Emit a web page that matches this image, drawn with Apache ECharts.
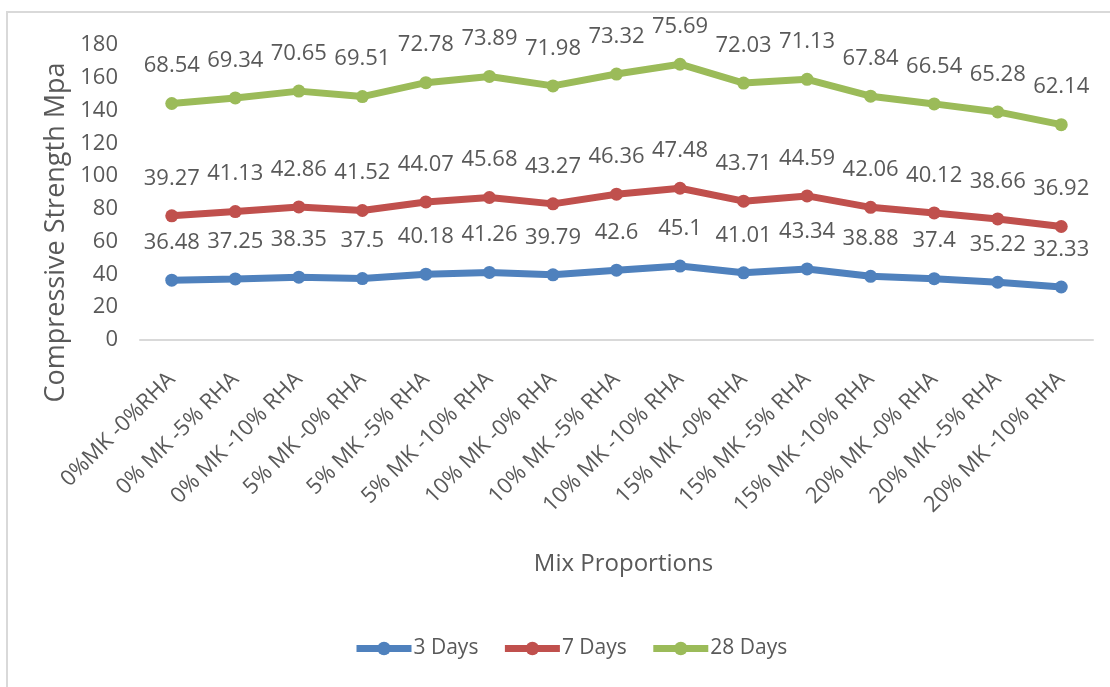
<!DOCTYPE html>
<html>
<head>
<meta charset="utf-8">
<style>
  html, body { margin: 0; padding: 0; background: #fff; }
  #chart { width: 1110px; height: 687px; }
</style>
<script src="https://cdn.jsdelivr.net/npm/echarts@6/dist/echarts.min.js"></script>
</head>
<body>
<div id="chart"></div>
<script>
// Mix proportions (metakaolin / rice husk ash replacement)
const categories = [
  "0%MK -0%RHA", "0% MK -5% RHA", "0% MK -10% RHA",
  "5% MK -0% RHA", "5% MK -5% RHA", "5% MK -10% RHA",
  "10% MK -0% RHA", "10% MK -5% RHA", "10% MK -10% RHA",
  "15% MK -0% RHA", "15% MK -5% RHA", "15% MK -10% RHA",
  "20% MK -0% RHA", "20% MK -5% RHA", "20% MK -10% RHA"
];

// Compressive strength (MPa) at each curing age
const days3 = [36.48, 37.25, 38.35, 37.5, 40.18, 41.26, 39.79, 42.6, 45.1, 41.01, 43.34, 38.88, 37.4, 35.22, 32.33];
const days7 = [39.27, 41.13, 42.86, 41.52, 44.07, 45.68, 43.27, 46.36, 47.48, 43.71, 44.59, 42.06, 40.12, 38.66, 36.92];
const days28 = [68.54, 69.34, 70.65, 69.51, 72.78, 73.89, 71.98, 73.32, 75.69, 72.03, 71.13, 67.84, 66.54, 65.28, 62.14];

const seriesNames = ["3 Days", "7 Days", "28 Days"];
const seriesColors = ["#4F81BD", "#C0504D", "#9BBB59"];

const FONT = "Open Sans";
const TEXT = "#595959";

function makeSeries(name, data, color) {
  return {
    name: name,
    type: "line",
    stack: "strength",
    data: data,
    symbol: "circle",
    symbolSize: 13,
    color: color,
    lineStyle: { width: 7, color: color },
    itemStyle: { color: color },
    label: {
      show: true,
      position: "top",
      distance: 20,
      color: TEXT,
      fontFamily: FONT,
      fontSize: 22,
      lineHeight: 22
    },
    emphasis: { disabled: true }
  };
}

const chart = echarts.init(document.getElementById("chart"), null, { renderer: "canvas" });

chart.setOption({
  animation: false,
  backgroundColor: "#ffffff",
  graphic: [{
    type: "rect",
    shape: { x: 7, y: 12, width: 1130, height: 700 },
    style: { fill: "none", stroke: "#D9D9D9", lineWidth: 2 },
    silent: true
  }],
  grid: { left: 140, right: 17, top: 45, bottom: 347, containLabel: false },
  legend: {
    data: seriesNames,
    left: 353,
    top: 638,
    padding: 0,
    itemGap: 23,
    itemWidth: 55,
    itemHeight: 17,
    lineStyle: { width: 7 },
    textStyle: { color: TEXT, fontFamily: FONT, fontSize: 21, padding: [0, 0, 0, -3] }
  },
  xAxis: {
    type: "category",
    data: categories,
    boundaryGap: true,
    name: "Mix Proportions",
    nameLocation: "middle",
    nameGap: 212,
    nameTextStyle: { color: TEXT, fontFamily: FONT, fontSize: 24, padding: [0, 0, 0, 14] },
    axisLine: { show: true, lineStyle: { color: "#D9D9D9", width: 2 } },
    axisTick: { show: false },
    axisLabel: {
      interval: 0,
      rotate: 45,
      margin: 36,
      align: "right",
      verticalAlign: "middle",
      color: TEXT,
      fontFamily: FONT,
      fontSize: 22
    },
    splitLine: { show: false }
  },
  yAxis: {
    type: "value",
    min: 0,
    max: 180,
    interval: 20,
    name: "Compressive Strength Mpa",
    nameLocation: "middle",
    nameRotate: 90,
    nameGap: 70,
    nameTextStyle: { color: TEXT, fontFamily: FONT, fontSize: 27, padding: [0, 80, 0, 0] },
    axisLine: { show: false },
    axisTick: { show: false },
    axisLabel: { margin: 22, color: TEXT, fontFamily: FONT, fontSize: 22 },
    splitLine: { show: false }
  },
  series: [
    makeSeries(seriesNames[0], days3, seriesColors[0]),
    makeSeries(seriesNames[1], days7, seriesColors[1]),
    makeSeries(seriesNames[2], days28, seriesColors[2])
  ]
});
</script>
</body>
</html>
